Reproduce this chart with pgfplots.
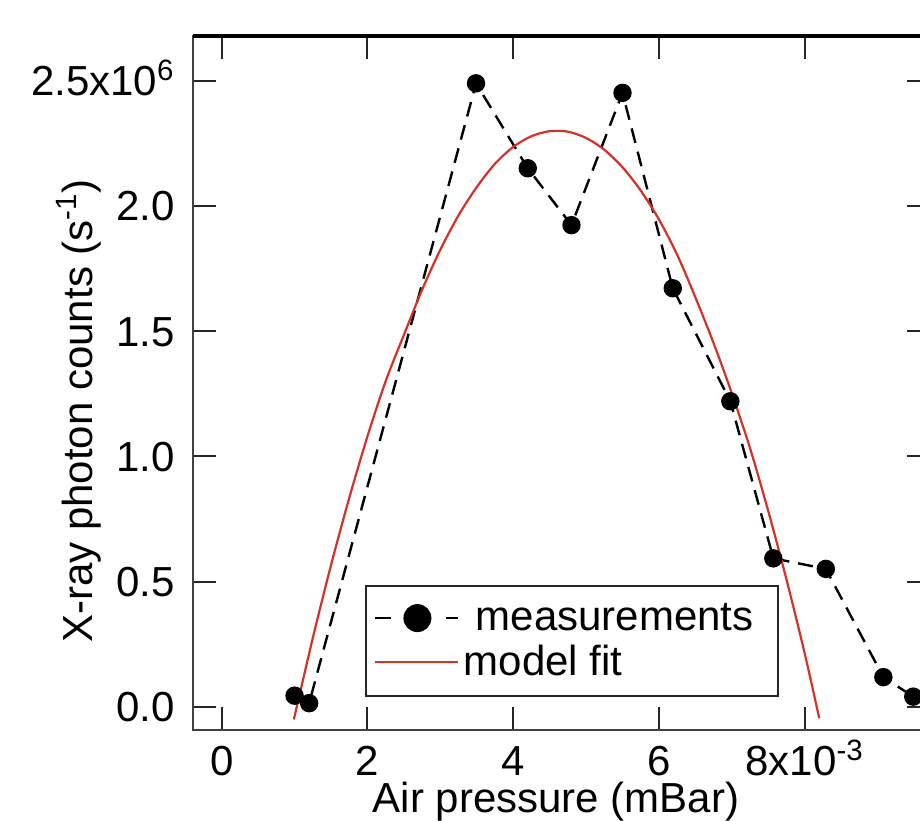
\documentclass[border=0pt]{standalone}
\usepackage{fontspec}
\setmainfont{Liberation Sans}
\usepackage{pgfplots}
\pgfplotsset{compat=1.18}
\usetikzlibrary{calc}
\newcommand{\fsz}{\fontsize{21}{25}\selectfont}
\definecolor{fitred}{RGB}{215,48,39}

\pgfplotstableread{
x y
1.00 0.045
1.20 0.015
3.49 2.489
4.20 2.150
4.80 1.923
5.50 2.451
6.19 1.671
6.98 1.220
7.57 0.593
8.29 0.551
9.08 0.119
9.49 0.041
}\meas

\pgfplotstableread{
x y
0.99 -0.050
1.25 0.275
1.50 0.566
1.75 0.834
2.00 1.080
2.25 1.300
2.50 1.485
2.75 1.665
3.00 1.825
3.25 1.962
3.50 2.075
3.75 2.168
4.00 2.235
4.25 2.278
4.50 2.298
4.75 2.296
5.00 2.271
5.25 2.224
5.50 2.154
5.75 2.061
6.00 1.946
6.25 1.805
6.50 1.635
6.75 1.452
7.00 1.252
7.25 1.033
7.50 0.782
7.75 0.509
8.00 0.214
8.20 -0.045
}\fit

\begin{document}
\begin{tikzpicture}
\begin{axis}[
 scale only axis, width=368.5pt, height=347pt,
 xmin=-0.394, xmax=9.72, ymin=-0.092, ymax=2.678,
 xtick={0,2,4,6,8}, xticklabels={0,2,4,6,{8x10\textsuperscript{-3}}},
 ytick={0,0.5,1,1.5,2,2.5}, yticklabels={0.0,0.5,1.0,1.5,2.0,{2.5x10\textsuperscript{6}}},
 tick align=inside, major tick length=11.5pt,
 tick style={line width=1pt, black!85},
 axis line style={line width=1pt, black!75},
 tick label style={font=\fsz, inner sep=0pt},
 xticklabel style={anchor=base, yshift=-23pt},
 yticklabel style={anchor=base east, yshift=-7.5pt, xshift=-9pt},
 label style={font=\fsz, inner sep=0pt},
 xlabel={Air pressure (mBar)},
 ylabel={X-ray photon counts (s\textsuperscript{-1})},
 xlabel style={at={(axis description cs:0.4925,-0.1182)}, anchor=base},
 ylabel style={at={(axis description cs:-0.137,0.4597)}, anchor=base},
 legend style={at={(axis description cs:0.2334,0.2089)}, anchor=north west,
   draw=black!85, line width=1pt, font=\fsz, inner xsep=4pt, inner ysep=6.5pt, row sep=2pt},
 legend cell align=left,
]
\coordinate (ll) at (rel axis cs:0,0);
\coordinate (ur) at (rel axis cs:1,1);
\addplot[black, line width=1.2pt, dash pattern=on 7.5pt off 4.5pt, mark=*, mark size=4pt,
  mark options={solid},
  legend image code/.code={\draw[black, line width=1.4pt, solid] (0pt,0pt)--(8pt,0pt) (35.5pt,0pt)--(41.5pt,0pt); \node[circle, fill=black, draw=none, inner sep=0pt, minimum size=14pt, anchor=center] at (21pt,0pt) {};}]
  table[x=x,y=y] {\meas};
\addlegendentry{\kern6pt measurements\kern6pt}
\addplot[fitred, line width=1.1pt, no marks, smooth, tension=0.5,
  legend image code/.code={\draw[fitred, line width=1.1pt] (0pt,0pt)--(41.5pt,0pt);}]
  table[x=x,y=y] {\fit};
\addlegendentry{model fit}
\end{axis}
\draw[line width=2pt, black] (ll|-ur) -- (ur);
\pgfresetboundingbox
\useasboundingbox ($(ll)+(-96.5pt,-45.5pt)$) rectangle ($(ur)+(-5pt,18pt)$);
\end{tikzpicture}
\end{document}
